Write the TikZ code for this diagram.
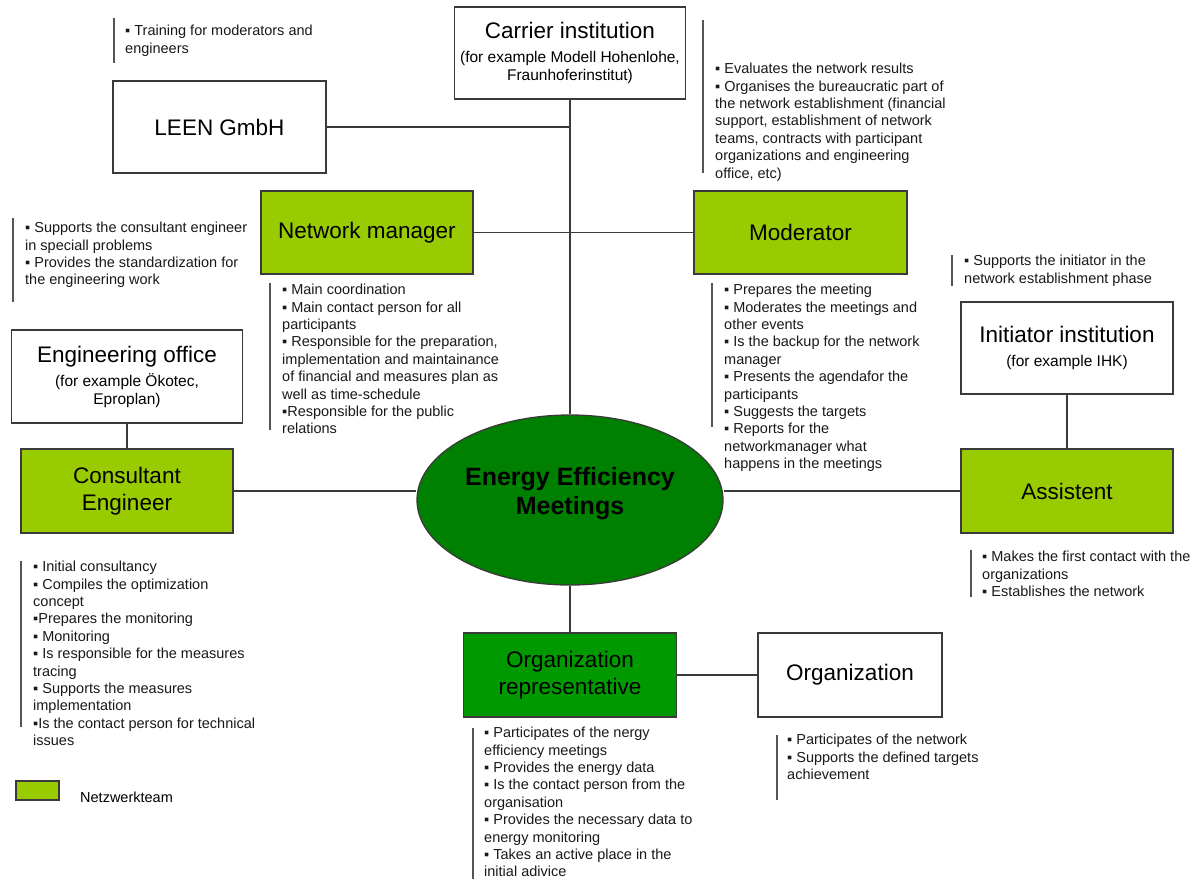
\documentclass[tikz,border=0pt]{standalone}
\usepackage{fontspec}
\setmainfont{Liberation Sans}
\usetikzlibrary{shapes.geometric}

\definecolor{teamgreen}{HTML}{99CC00}
\definecolor{repgreen}{HTML}{009900}
\definecolor{meetgreen}{HTML}{008000}
\definecolor{edge}{HTML}{3A3A3A}
\definecolor{barcol}{HTML}{555555}

\newcommand{\titlesize}{\fontsize{22.5}{26}\selectfont}
\newcommand{\subsize}{\fontsize{15.5}{18}\selectfont}
\newcommand{\notesize}{\fontsize{14.5}{17.4}\selectfont}
\newcommand{\bul}{▪}

\tikzset{
  box/.style={draw=edge, line width=1.3pt, inner sep=0pt, align=center,
              font=\titlesize, text=black},
  whitebox/.style={box, fill=white},
  teambox/.style={box, fill=teamgreen},
  repbox/.style={box, fill=repgreen},
  link/.style={draw=edge, line width=1.3pt},
  notes/.style={anchor=north west, align=left, inner sep=0pt, font=\notesize, text=black!90},
  notebar/.style={draw=barcol, line width=1.6pt}
}

\begin{document}
\begin{tikzpicture}[x=1pt, y=-1pt]
\useasboundingbox[fill=white] (0,0) rectangle (1197,879);

% ---------- boxes ----------
\node[whitebox, minimum width=231, minimum height=92] (carrier) at (570,53)
  {Carrier institution\\[-2pt]{\subsize (for example Modell Hohenlohe,}\\[-8pt]{\subsize Fraunhoferinstitut)}};
\node[whitebox, minimum width=213, minimum height=92] (leen) at (219.5,127) {LEEN GmbH};
\node[teambox, minimum width=212, minimum height=83] (netman) at (367,232.5) {Network manager};
\node[teambox, minimum width=213, minimum height=83] (moder) at (800.5,232.5) {Moderator};
\node[whitebox, minimum width=231, minimum height=93] (engoff) at (127,376.5)
  {Engineering office\\[-2pt]{\subsize (for example Ökotec,}\\[-8pt]{\subsize Eproplan)}};
\node[whitebox, minimum width=212, minimum height=92] (initiator) at (1067,348)
  {Initiator institution\\[-2pt]{\subsize (for example IHK)}};
\node[teambox, minimum width=212, minimum height=84] (consult) at (127,491) {Consultant\\[1pt]Engineer};
\node[teambox, minimum width=212, minimum height=84] (assist) at (1067,491) {Assistent};
\node[ellipse, draw=edge, line width=1.3pt, fill=meetgreen, minimum width=306, minimum height=170,
      inner sep=0pt, align=center, font=\bfseries\fontsize{25}{29}\selectfont] (meet) at (570,500)
  {Energy Efficiency\\Meetings\rule[-19pt]{0pt}{1pt}};
\node[repbox, minimum width=213, minimum height=84] (orgrep) at (570,675) {Organization\\[1pt]representative};
\node[whitebox, minimum width=184, minimum height=84] (org) at (850,675) {Organization};

% ---------- connectors ----------
\coordinate (leenjoin) at (leen.east -| carrier.south);
\draw[link] (carrier.south) -- (meet.north);
\draw[link] (leen.east) -- (leenjoin);
\draw[link] (netman.east) -- (moder.west);
\draw[link] (engoff.south) -- (consult.north);
\draw[link] (consult.east) -- (consult.east -| meet.west);
\draw[link] (assist.west) -- (assist.west -| meet.east);
\draw[link] (initiator.south) -- (assist.north);
\draw[link] (meet.south) -- (orgrep.north);
\draw[link] (orgrep.east) -- (org.west);

% ---------- task lists ----------
\draw[notebar] (114,18) -- (114,63);
\node[notes] (ntrain) at (125,25) {\bul{} Training for moderators and\\engineers};

\draw[notebar] (703,20) -- (703,173);
\node[notes] (ncarrier) at (715,63) {\bul{} Evaluates the network results\\
\bul{} Organises the bureaucratic part of\\the network establishment (financial\\
support, establishment of network\\teams, contracts with participant\\
organizations and engineering\\office, etc)};

\draw[notebar] (13,218) -- (13,302);
\node[notes] (nengoff) at (25,222) {\bul{} Supports the consultant engineer\\in speciall problems\\
\bul{} Provides the standardization for\\the engineering work};

\draw[notebar] (270,283) -- (270,430);
\node[notes] (nnetman) at (282,284) {\bul{} Main coordination\\\bul{} Main contact person for all\\participants\\
\bul{} Responsible for the preparation,\\implementation and maintainance\\
of financial and measures plan as\\well as time-schedule\\\bul{}Responsible for the public\\relations};

\draw[notebar] (712,283) -- (712,427);
\node[notes] (nmoder) at (724,284) {\bul{} Prepares the meeting\\\bul{} Moderates the meetings and\\other events\\
\bul{} Is the backup for the network\\manager\\\bul{} Presents the agendafor the\\participants\\
\bul{} Suggests the targets\\\bul{} Reports for the\\networkmanager what\\happens in the meetings};

\draw[notebar] (952,255) -- (952,286);
\node[notes] (ninit) at (964,255) {\bul{} Supports the initiator in the\\network establishment phase};

\draw[notebar] (971,550) -- (971,597);
\node[notes] (nassist) at (982,551) {\bul{} Makes the first contact with the\\organizations\\\bul{} Establishes the network};

\draw[notebar] (21,561) -- (21,727);
\node[notes] (nconsult) at (33,561) {\bul{} Initial consultancy\\\bul{} Compiles the optimization\\concept\\
\bul{}Prepares the monitoring\\\bul{} Monitoring\\\bul{} Is responsible for the measures\\tracing\\
\bul{} Supports the measures\\implementation\\\bul{}Is the contact person for technical\\issues};

\draw[notebar] (473,728) -- (473,879);
\node[notes] (norgrep) at (484,727) {\bul{} Participates of the nergy\\efficiency meetings\\
\bul{} Provides the energy data\\\bul{} Is the contact person from the\\organisation\\
\bul{} Provides the necessary data to\\energy monitoring\\\bul{} Takes an active place in the\\initial adivice};

\draw[notebar] (777,735) -- (777,800);
\node[notes] (norg) at (787,734) {\bul{} Participates of the network\\\bul{} Supports the defined targets\\achievement};

% ---------- legend ----------
\node[draw=edge, line width=1.3pt, fill=teamgreen, minimum width=43, minimum height=19, inner sep=0pt] (legbox) at (37.5,790.5) {};
\node[anchor=west, inner sep=0pt, font=\notesize] (legtext) at (80,797) {Netzwerkteam};
\end{tikzpicture}
\end{document}
